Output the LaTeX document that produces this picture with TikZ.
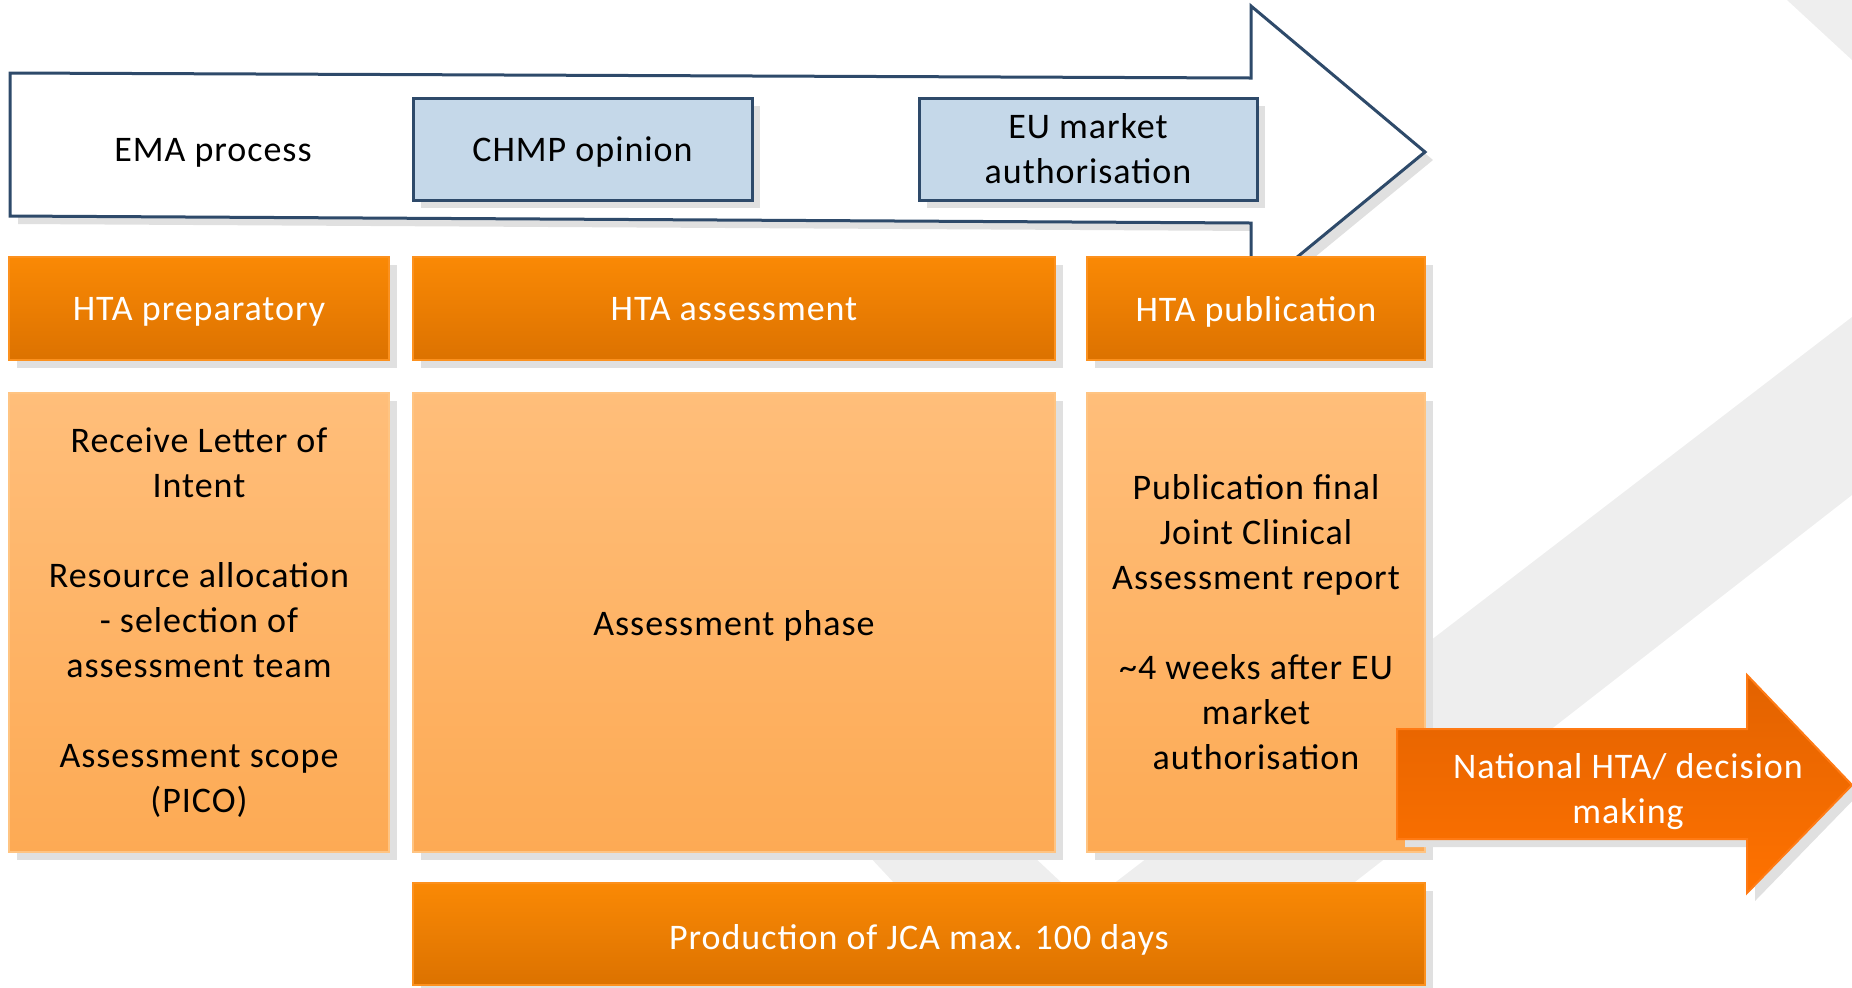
\documentclass[tikz,border=0pt]{standalone}
\usepackage{fontspec}
\setmainfont[LetterSpace=2.7]{Carlito}
\usetikzlibrary{shadows}

\definecolor{emaNavy}{RGB}{46,74,106}
\definecolor{chmpBlue}{RGB}{197,216,233}
\definecolor{htaTop}{RGB}{250,137,5}
\definecolor{htaBottom}{RGB}{220,114,0}
\definecolor{htaLine}{RGB}{252,145,30}
\definecolor{bodyTop}{RGB}{255,190,122}
\definecolor{bodyBottom}{RGB}{253,170,84}
\definecolor{bodyLine}{RGB}{255,196,130}
\definecolor{natTop}{RGB}{226,98,0}
\definecolor{natBottom}{RGB}{255,114,0}
\definecolor{natLine}{RGB}{255,122,20}
\definecolor{bgBand}{RGB}{238,238,238}

\tikzset{
  boxshadow/.style={drop shadow={shadow xshift=4pt,shadow yshift=-4pt,fill=black!12,opacity=1}},
  emabox/.style={draw=emaNavy,line width=1.5pt,fill=chmpBlue,align=center,inner sep=0pt,minimum height=51pt,boxshadow},
  htahead/.style={draw=htaLine,line width=1pt,top color=htaTop,bottom color=htaBottom,text=white,inner sep=0pt,text depth=0pt,minimum height=51.5pt,boxshadow},
  htabody/.style={draw=bodyLine,line width=1pt,top color=bodyTop,bottom color=bodyBottom,inner sep=0pt,minimum height=229.5pt,boxshadow},
  plaintext/.style={align=center,inner sep=0pt},
  oneline/.style={text depth=0pt}
}

\begin{document}
\begin{tikzpicture}[x=0.5pt,y=0.5pt,yscale=-1,xscale=1,
    every node/.style={font=\fontsize{18}{22.5}\selectfont}]
	\useasboundingbox (0,0) rectangle (1852,987);

	% Background bands
	\fill [bgBand] (1787,0) -- (1852,0) -- (1852,60) -- cycle;
	\fill [bgBand] (1852,317) -- (1852,495) -- (1220,987) -- (979,987) -- cycle;
	\fill [bgBand] (630,600) -- (760,600) -- (1080,900) -- (910,900) -- cycle;

	% EMA arrow
	\draw [draw=emaNavy,line width=1.5pt,fill=white,boxshadow] (10,73) -- (1251,78) -- (1251,6) -- (1425,152) -- (1251,295) -- (1251,223) -- (10,216) -- cycle;
	\node (ema) [plaintext,oneline] at (213,150) {EMA process};
	% CHMP box
	\node (chmp) [emabox,oneline,minimum width=169.5pt] at (582.5,149) {CHMP opinion};
	% EU market box
	\node (eumarket) [emabox,minimum width=169pt] at (1088,149) {EU market\\authorisation};

	% HTA headers
	\node (hprep) [htahead,minimum width=190pt] at (199,308.5) {HTA preparatory};
	\node (hassess) [htahead,minimum width=321pt] at (734,308.5) {HTA assessment};
	\node (hpub) [htahead,minimum width=169pt] at (1256,308.5) {HTA publication};

	% HTA bodies
	\node (bprep) [htabody,minimum width=190pt] at (199,622.5) {};
	\node (bassess) [htabody,minimum width=321pt] at (734,622.5) {};
	\node (bpub) [htabody,minimum width=169pt] at (1256,622.5) {};
	\node (tprep) [plaintext] at (bprep) {Receive Letter of\\Intent\\[22.5pt]Resource allocation\\- selection of\\assessment team\\[22.5pt]Assessment scope\\(PICO)};
	\node (tassess) [plaintext,oneline] at (bassess) {Assessment phase};
	\node (tpub) [plaintext] at (bpub) {Publication final\\Joint Clinical\\Assessment report\\[22.5pt]\textasciitilde4 weeks after EU\\market\\authorisation};

	% JCA bar
	\node (jca) [htahead,minimum width=506pt,minimum height=51pt] at (919,934) {};
	\node (tjca) [plaintext,oneline,text=white,yshift=-1.5pt] at (jca) {Production of JCA max. 100 days};

	% National arrow
	\draw [draw=natLine,line width=1pt,top color=natTop,bottom color=natBottom,boxshadow] (1397,729) -- (1747,729) -- (1747,675) -- (1852,785) -- (1747,893) -- (1747,839) -- (1397,839) -- cycle;
	\node (national) [plaintext,text=white] at (1628,792) {National HTA/ decision\\making};

\end{tikzpicture}
\end{document}
